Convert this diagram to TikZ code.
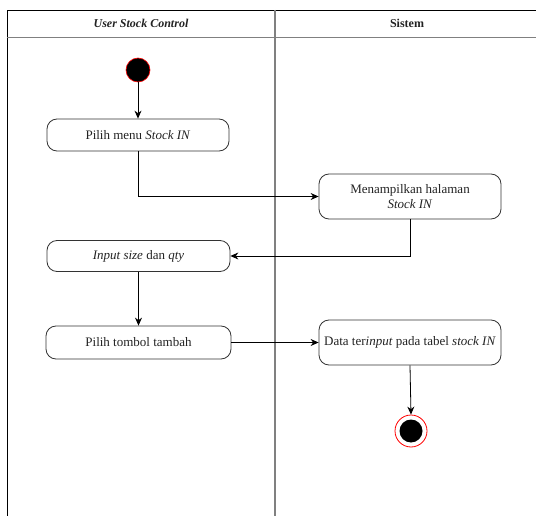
\documentclass[tikz,border=0pt]{standalone}
\usepackage{fontspec}
\setmainfont{Liberation Serif}
\usetikzlibrary{arrows.meta}
\definecolor{lanegray}{HTML}{808080}
\definecolor{txt}{HTML}{222222}
\tikzset{
  act/.style={draw=black!80, line width=0.8pt, rounded corners=10pt, align=center, inner sep=2pt,
    font=\fontsize{13}{15}\selectfont, text=txt},
  conn/.style={draw=black, line width=0.8pt, -{Stealth[length=8pt,width=7pt]}},
  startnode/.style={circle, fill=black, draw=red, line width=0.6pt, minimum size=24pt, inner sep=0pt},
  endouter/.style={circle, fill=white, draw=red, line width=0.8pt, minimum size=32pt, inner sep=0pt},
  endinner/.style={circle, fill=black, minimum size=23pt, inner sep=0pt},
  hdr/.style={font=\fontsize{12}{14}\selectfont\bfseries, text=txt}
}
\begin{document}
\begin{tikzpicture}[x=1pt,y=-1pt]
\useasboundingbox (0,0) rectangle (536,516);
% swimlane frame
\draw[black, line width=0.8pt] (7,516) -- (7,10) -- (536,10);
\draw[lanegray, line width=0.6pt] (7,37) -- (536,37);
\draw[lanegray, line width=1.4pt] (275,10) -- (275,516);
\node[hdr] (h1) at (141,23) {\itshape User Stock Control};
\node[hdr] (h2) at (407,23) {Sistem};
% nodes
\node[startnode] (start) at (138,70) {};
\node[act, minimum width=182pt, minimum height=32pt] (a1) at (138,135) {Pilih menu \textit{Stock IN}};
\node[act, minimum width=182pt, minimum height=45pt] (a2) at (410,196.5) {Menampilkan halaman\\\textit{Stock IN}};
\node[act, minimum width=183pt, minimum height=31pt] (a3) at (138.5,256) {\textit{Input size} dan \textit{qty}};
\node[act, minimum width=185pt, minimum height=33pt] (a4) at (138.5,342.5) {Pilih tombol tambah};
\node[act, minimum width=182pt, minimum height=45pt] (a5) at (410,342.5) {Data ter\textit{input} pada tabel \textit{stock IN}};
\node[endouter] (endo) at (411,431) {};
\node[endinner] (endi) at (endo.center) {};
% connectors
\draw[conn] (start) -- (a1);
\draw[conn] (a1.south) |- (a2.west);
\draw[conn] (a2.south) |- (a3.east);
\draw[conn] (a3) -- (a4);
\draw[conn] (a4) -- (a5);
\draw[conn] (a5.south) -- (endo.north);
\end{tikzpicture}
\end{document}
